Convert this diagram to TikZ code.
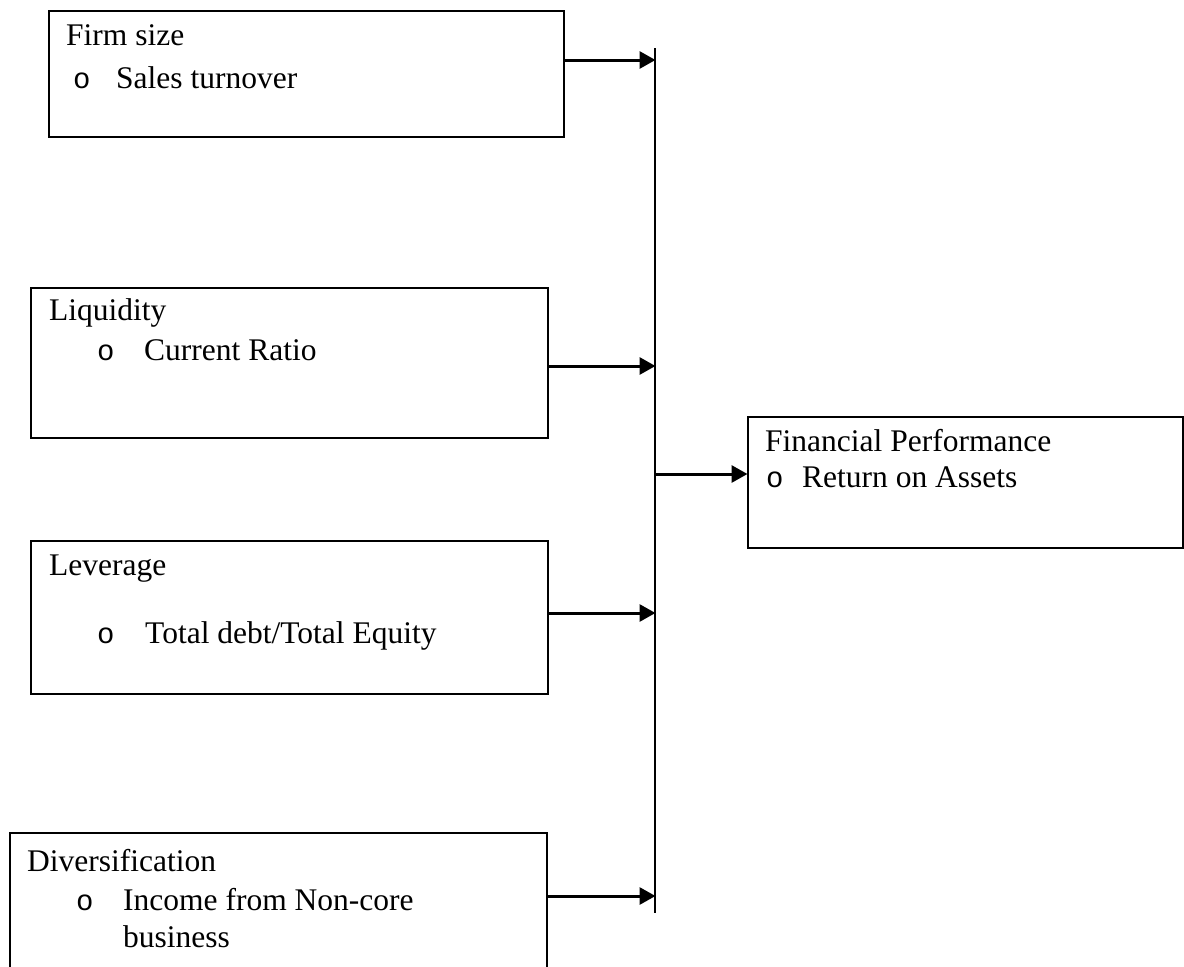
\documentclass[tikz,border=0pt]{standalone}
\usepackage{fontspec}
\setmainfont{Liberation Serif}
\setmonofont{Liberation Mono}
\usetikzlibrary{arrows.meta}
\tikzset{
  box/.style={draw, line width=2pt, rectangle, anchor=north west, inner sep=0pt},
  txt/.style={anchor=base west, inner sep=0pt, font=\fontsize{31.5}{36}\selectfont},
  bul/.style={anchor=base west, inner sep=0pt, font=\fontsize{29}{36}\ttfamily},
  arr/.style={line width=3pt, -{Triangle[length=16pt,width=17pt]}, shorten >=-0.5pt},
  busline/.style={line width=2pt}
}
\begin{document}
\begin{tikzpicture}[x=1pt,y=-1pt]
\useasboundingbox (0,0) rectangle (1184,967);
% boxes
\node[box, minimum width=515pt, minimum height=126pt] (firm) at (48,10) {};
\node[box, minimum width=517pt, minimum height=150pt] (liq) at (30,287) {};
\node[box, minimum width=517pt, minimum height=153pt] (lev) at (30,540) {};
\node[box, minimum width=537pt, minimum height=150pt] (div) at (9,832) {};
\node[box, minimum width=435pt, minimum height=131pt] (fin) at (747,416) {};
% texts
\node[txt] (firmT) at (66,45) {Firm size};
\node[bul] (firmB) at (73,88) {o};
\node[txt] (firmI) at (116,88) {Sales turnover};
\node[txt] (liqT) at (49,320) {Liquidity};
\node[bul] (liqB) at (97,360) {o};
\node[txt] (liqI) at (144,360) {Current Ratio};
\node[txt] (levT) at (49,575) {Leverage};
\node[bul] (levB) at (97,643) {o};
\node[txt] (levI) at (145,643) {Total debt/Total Equity};
\node[txt] (divT) at (27,871) {Diversification};
\node[bul] (divB) at (76,910) {o};
\node[txt] (divI) at (123,910) {Income from Non-core};
\node[txt] (divI2) at (123,947) {business};
\node[txt] (finT) at (765,451) {Financial Performance};
\node[bul] (finB) at (766,487) {o};
\node[txt] (finI) at (802,487) {Return on Assets};
% bus
\coordinate (bustop) at (655,48);
\coordinate (busbot) at (655,913);
\draw[busline] (bustop) -- (busbot);
% arrow levels
\coordinate (y1) at (0,60);
\coordinate (y2) at (0,366);
\coordinate (y3) at (0,613);
\coordinate (y4) at (0,896);
\coordinate (y5) at (0,474);
\draw[arr] (firm.east |- y1) -- (bustop |- y1);
\draw[arr] (liq.east |- y2) -- (bustop |- y2);
\draw[arr] (lev.east |- y3) -- (bustop |- y3);
\draw[arr] (div.east |- y4) -- (bustop |- y4);
\draw[arr] (bustop |- y5) -- (fin.west |- y5);
\end{tikzpicture}
\end{document}
